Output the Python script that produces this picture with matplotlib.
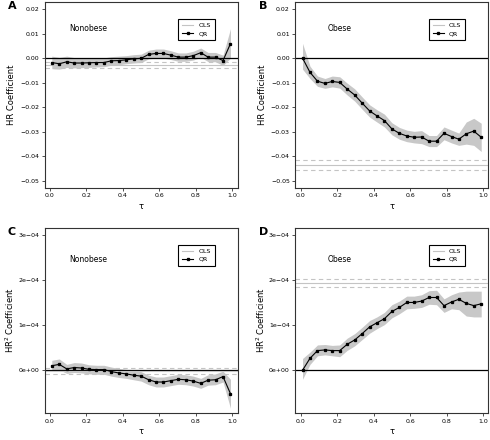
import matplotlib
matplotlib.use("Agg")
import matplotlib.pyplot as plt
import numpy as np

# quantiles
taus = [0.01, 0.051, 0.092, 0.133, 0.173, 0.214, 0.255, 0.296, 0.337, 0.378,
        0.418, 0.459, 0.5, 0.541, 0.582, 0.622, 0.663, 0.704, 0.745, 0.786,
        0.827, 0.867, 0.908, 0.949, 0.99]

# A: HR, nonobese (x 1e-3)
qr_a = [-1.8, -2.3, -1.5, -2.0, -2.0, -1.9, -1.8, -1.8, -1.1, -1.0, -0.7, -0.3, -0.1,
        1.5, 1.9, 1.9, 1.2, 0.4, 0.4, 1.0, 2.2, 0.4, 0.4, -1.0, 5.9]
lo_a = [-4.3, -4.5, -3.8, -4.0, -3.9, -3.8, -3.6, -3.5, -2.9, -2.7, -2.3, -2.0, -1.8,
        -0.3, 0.0, 0.0, -0.6, -1.3, -1.3, -0.8, 0.3, -1.4, -1.5, -3.0, 0.0]
hi_a = [0.8, 0.3, 0.8, 0.2, 0.1, 0.1, 0.1, 0.1, 0.6, 0.8, 1.0, 1.4, 1.6,
        3.2, 3.7, 3.7, 3.0, 2.1, 2.1, 2.8, 4.1, 2.3, 2.3, 1.2, 12.0]
ols_a = [-2.7, -1.4, -4.0]

# B: HR, obese (x 1e-3)
qr_b = [0.0, -5.8, -9.4, -10.3, -9.5, -9.9, -12.6, -15.0, -18.3, -21.5, -23.5, -25.4, -28.8,
        -30.6, -31.7, -32.2, -32.1, -33.8, -33.8, -30.6, -31.9, -33.0, -30.8, -29.7, -32.2]
lo_b = [-4.5, -8.3, -11.5, -12.3, -11.7, -12.2, -15.0, -17.5, -20.8, -24.0, -26.0, -28.0, -31.2,
        -33.0, -34.0, -34.5, -34.8, -36.0, -36.0, -33.2, -34.5, -35.5, -35.0, -35.5, -38.0]
hi_b = [6.0, -3.3, -7.3, -8.3, -7.3, -7.6, -10.2, -12.5, -15.8, -19.0, -21.0, -22.8, -26.3,
        -28.2, -29.3, -29.8, -29.5, -31.5, -31.5, -28.0, -29.3, -30.5, -26.0, -24.5, -26.5]
ols_b = [-43.6, -41.4, -45.7]

# C: HR^2, nonobese (x 1e-5)
qr_c = [1.0, 1.3, 0.3, 0.6, 0.5, 0.2, 0.15, 0.15, -0.3, -0.6, -0.8, -1.1, -1.3,
        -2.1, -2.6, -2.6, -2.3, -2.0, -2.1, -2.4, -2.9, -2.2, -2.1, -1.4, -5.2]
lo_c = [-0.2, 0.1, -0.7, -0.5, -0.6, -0.8, -0.9, -0.9, -1.3, -1.6, -1.8, -2.1, -2.4,
        -3.2, -3.7, -3.7, -3.4, -3.1, -3.2, -3.5, -4.0, -3.3, -3.2, -2.6, -8.4]
hi_c = [2.2, 2.5, 1.3, 1.7, 1.6, 1.2, 1.1, 1.1, 0.7, 0.4, 0.2, -0.1, -0.3,
        -1.1, -1.5, -1.5, -1.2, -0.9, -1.0, -1.3, -1.8, -1.0, -0.8, -0.2, -2.0]
ols_c = [-0.2, 0.4, -0.9]

# D: HR^2, obese (x 1e-5)
qr_d = [0.0, 2.65, 4.35, 4.5, 4.35, 4.35, 5.75, 6.7, 8.1, 9.6, 10.5, 11.4, 13.0,
        13.9, 15.0, 15.0, 15.3, 16.1, 16.1, 14.3, 15.1, 15.7, 14.8, 14.3, 14.7]
lo_d = [-2.0, 1.3, 3.2, 3.4, 3.2, 3.0, 4.4, 5.4, 6.8, 8.2, 9.2, 10.1, 11.6,
        12.5, 13.6, 13.7, 13.9, 14.6, 14.5, 12.8, 13.6, 13.4, 12.0, 11.8, 11.8]
hi_d = [2.6, 4.0, 5.6, 5.7, 5.5, 5.6, 7.1, 8.1, 9.5, 11.0, 11.8, 12.8, 14.5,
        15.3, 16.4, 16.4, 16.7, 17.6, 17.7, 15.8, 16.7, 17.3, 17.5, 17.5, 17.5]
ols_d = [19.3, 20.1, 18.4]

ticks_hr = [0.02, 0.01, 0.0, -0.01, -0.02, -0.03, -0.04, -0.05]
labels_hr = ["0.02", "0.01", "0.00", "\u22120.01", "\u22120.02", "\u22120.03", "\u22120.04", "\u22120.05"]
ticks_hr2 = [3e-4, 2e-4, 1e-4, 0.0]
labels_hr2 = ["3e\u221204", "2e\u221204", "1e\u221204", "0e+00"]
xticks = [0.0, 0.2, 0.4, 0.6, 0.8, 1.0]

panels = [
    ("A", "Nonobese", qr_a, lo_a, hi_a, ols_a, 1e-3, "hr", [0.0912, 0.573, 0.3937, 0.4223]),
    ("B", "Obese", qr_b, lo_b, hi_b, ols_b, 1e-3, "hr", [0.6029, 0.573, 0.3937, 0.4223]),
    ("C", "Nonobese", qr_c, lo_c, hi_c, ols_c, 1e-5, "hr2", [0.0912, 0.0607, 0.3937, 0.4216]),
    ("D", "Obese", qr_d, lo_d, hi_d, ols_d, 1e-5, "hr2", [0.6029, 0.0607, 0.3937, 0.4216]),
]

fig = plt.figure(figsize=(4.9, 4.4), dpi=100)

band_col = "#c8c8c8"
ols_col = "#c4c4c4"

for letter, group, qr, lo, hi, ols, scale, kind, pos in panels:
    ax = fig.add_axes(pos)
    x = np.array(taus)
    ax.fill_between(x, np.array(lo) * scale, np.array(hi) * scale,
                    color=band_col, linewidth=0, zorder=1)
    ax.axhline(0, color="black", linewidth=0.9, zorder=2)
    ax.axhline(ols[0] * scale, color=ols_col, linewidth=0.8, zorder=2)
    ax.axhline(ols[1] * scale, color=ols_col, linewidth=0.8, linestyle=(0, (4, 3)), zorder=2)
    ax.axhline(ols[2] * scale, color=ols_col, linewidth=0.8, linestyle=(0, (4, 3)), zorder=2)
    ax.plot(x, np.array(qr) * scale, color="black", linewidth=0.8,
            marker="s", markersize=1.4, zorder=3)

    ax.set_xlim(-0.029, 1.029)
    ax.set_xticks(xticks)
    ax.set_xticklabels(["0.0", "0.2", "0.4", "0.6", "0.8", "1.0"])
    if kind == "hr":
        ax.set_ylim(-0.0528, 0.0228)
        ax.set_yticks(ticks_hr)
        ax.set_yticklabels(labels_hr)
        ax.set_ylabel("HR Coefficient", fontsize=6, labelpad=3)
        ty = 0.0122
    else:
        ax.set_ylim(-0.952e-4, 3.152e-4)
        ax.set_yticks(ticks_hr2)
        ax.set_yticklabels(labels_hr2)
        ax.set_ylabel("HR$^2$ Coefficient", fontsize=6, labelpad=1.5)
        ty = 2.45e-4
    ax.set_xlabel("τ", fontsize=6, labelpad=2.5)
    ax.tick_params(labelsize=4.5, length=2.5, width=0.6, pad=1.5, color="#333333")
    for s in ax.spines.values():
        s.set_linewidth(0.8)
        s.set_color("#333333")

    tx = 0.107 if letter in "AC" else 0.15
    ax.text(tx, ty, group, fontsize=5.5, ha="left", va="center")

    h_ols, = ax.plot([], [], color=ols_col, linewidth=0.8)
    h_qr, = ax.plot([], [], color="black", linewidth=0.8, marker="s", markersize=1.4)
    leg = ax.legend([h_ols, h_qr], ["OLS", "QR"], loc="upper left",
                    bbox_to_anchor=(0.693, 0.908), borderaxespad=0, fontsize=4.5,
                    fancybox=False, framealpha=1, edgecolor="black",
                    handlelength=1.8, borderpad=0.6, labelspacing=0.4,
                    handletextpad=0.8)
    leg.get_frame().set_linewidth(0.8)

    fig.text(pos[0] - 0.075, pos[1] + pos[3] - 0.01, letter, fontsize=8,
             fontweight="bold", ha="left", va="center")

fig.savefig("out.png", dpi=100)
